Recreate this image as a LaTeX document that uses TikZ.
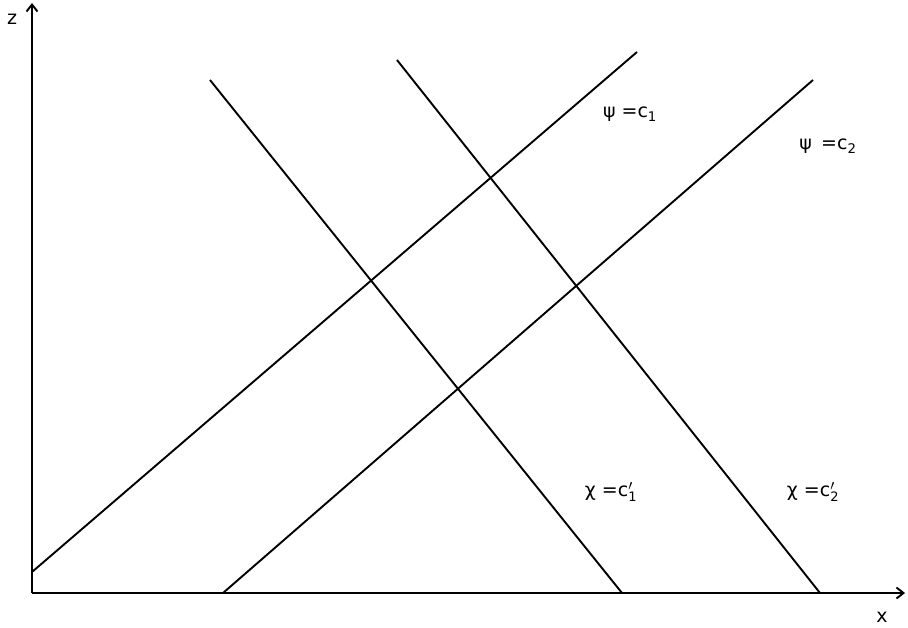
\documentclass[tikz,border=0pt]{standalone}
\usepackage{fontspec}
\setmainfont{DejaVu Sans}
\usetikzlibrary{arrows.meta}
\newcommand{\cprime}[1]{\ensuremath{\mbox{c}'_{\mbox{\fontsize{13}{13}\selectfont #1}}}}
\begin{document}
\begin{tikzpicture}[x=1pt,y=-1pt,
  axis/.style={line width=2.4pt,-{Straight Barb[length=7pt,width=11pt,line width=1.9pt]}},
  level/.style={line width=1.9pt},
  lab/.style={font=\fontsize{19}{22}\selectfont, inner sep=1pt}]
\useasboundingbox (0,0) rectangle (908,628);
\coordinate (O) at (32,593);
\coordinate (ytop) at (32,3);
\coordinate (xend) at (905,593);
\draw[axis] (O) -- (ytop);
\draw[axis] (O) -- (xend);
\node[lab] (zl) at (12,19) {z};
\node[lab] (xl) at (882,617) {x};
% psi lines
\coordinate (p1a) at (32,572);
\coordinate (p1b) at (637,52);
\coordinate (p2a) at (223,593);
\coordinate (p2b) at (813,80);
\draw[level] (p1a) -- (p1b);
\draw[level] (p2a) -- (p2b);
% chi lines
\coordinate (c1a) at (210,80);
\coordinate (c1b) at (622,593);
\coordinate (c2a) at (397,60);
\coordinate (c2b) at (820,593);
\draw[level] (c1a) -- (c1b);
\draw[level] (c2a) -- (c2b);
% labels
\node[lab] (lp1) at (630,114) {ψ =c\textsubscript{1}};
\node[lab] (lp2) at (828,146) {ψ \,=c\textsubscript{2}};
\node[lab] (lc1) at (611,492) {χ =\cprime{1}};
\node[lab] (lc2) at (813,492) {χ =\cprime{2}};
\end{tikzpicture}
\end{document}
